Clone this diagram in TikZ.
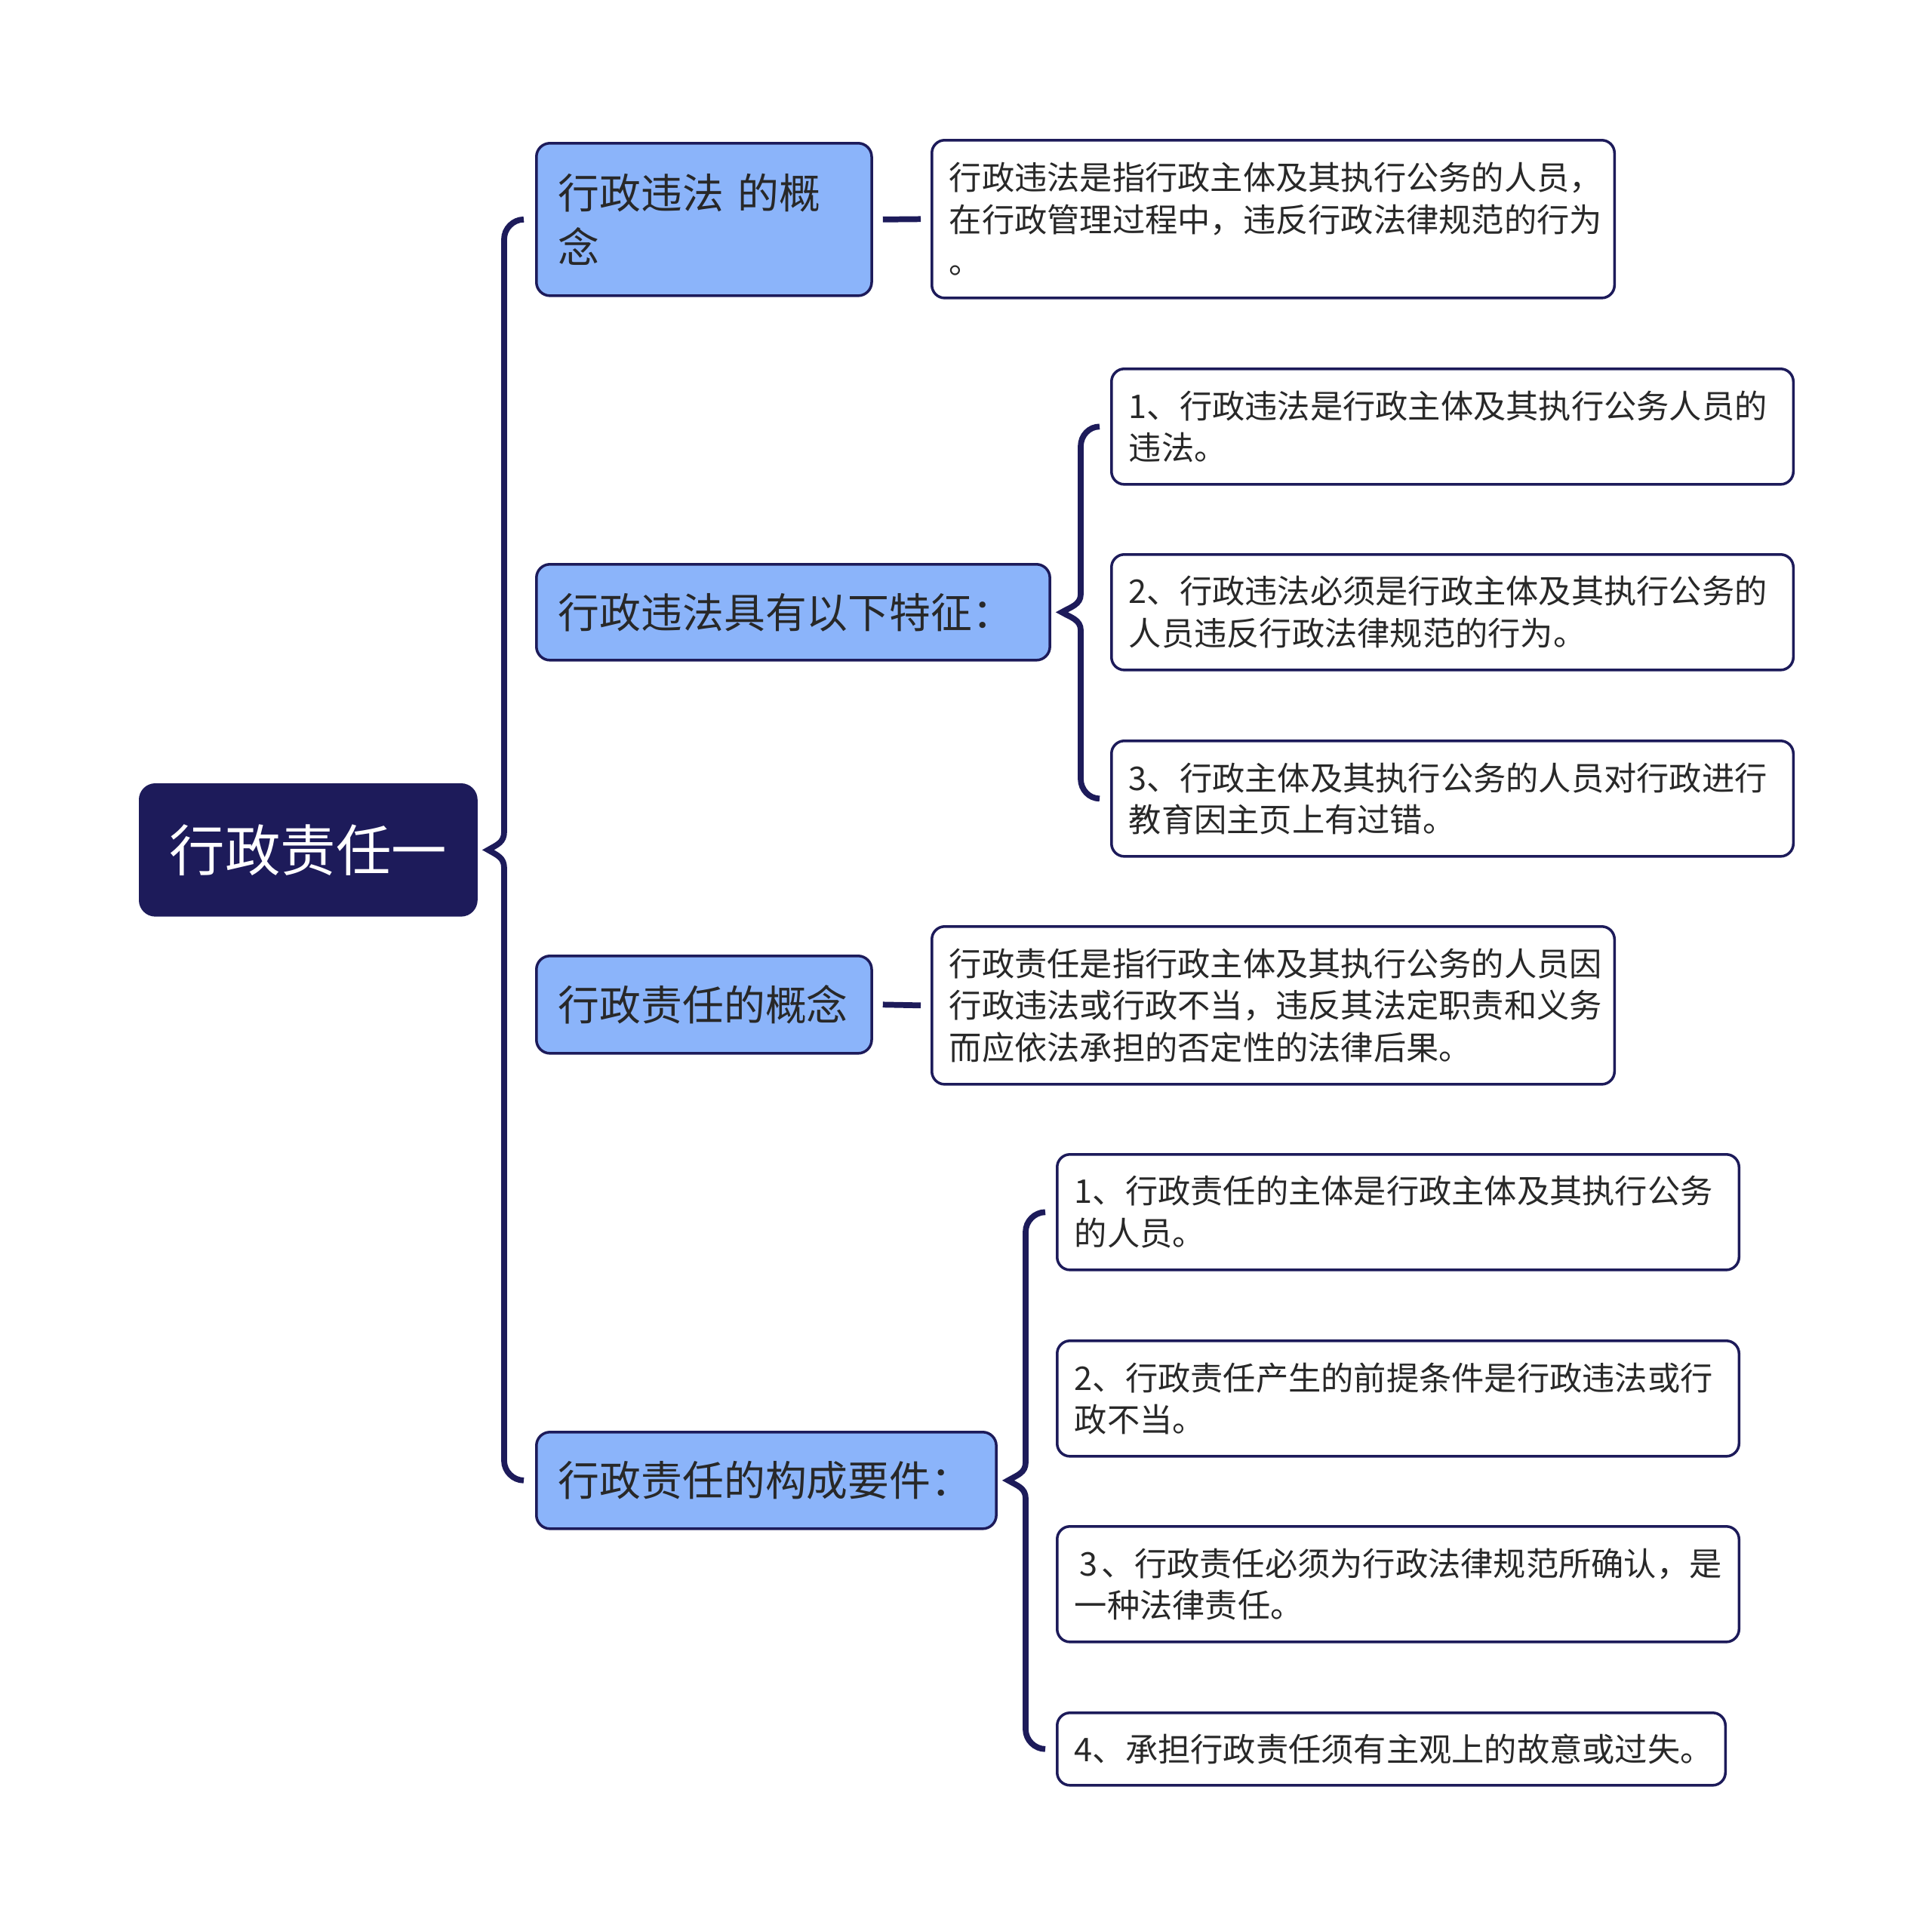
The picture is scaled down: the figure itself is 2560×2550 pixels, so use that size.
\documentclass[tikz,border=0pt]{standalone}
\usepackage{fontspec}
\setmainfont{Noto Sans CJK SC}
\usetikzlibrary{calc}
\definecolor{navy}{RGB}{29,27,90}
\definecolor{lblue}{RGB}{139,180,250}
\definecolor{txt}{RGB}{40,40,40}
\tikzset{
  rootbox/.style={draw=navy, fill=navy, line width=1pt, rounded corners=0.2cm, text=white,
    font=\fontsize{20.9}{26}\selectfont, anchor=north west, align=center, inner sep=0pt},
  lonebox/.style={draw=navy, fill=lblue, line width=1pt, rounded corners=0.18cm, text=txt,
    font=\fontsize{15.6}{20.5}\selectfont, anchor=north west, align=left, inner xsep=0.29cm, inner ysep=0pt},
  ltwobox/.style={draw=navy, fill=white, line width=1pt, rounded corners=0.17cm, text=txt,
    font=\fontsize{12.3}{15.8}\selectfont, anchor=north west, align=left, inner xsep=0.23cm, inner ysep=0pt},
  conn/.style={draw=navy, line width=2.2pt}
}
\hfuzz=100pt
\begin{document}
\begin{tikzpicture}[x=0.01cm,y=-0.01cm]
\useasboundingbox (0,0) rectangle (2560,2550);
% root
\node[rootbox, minimum width=4.45cm, minimum height=1.73cm] (root) at (184,1038) {行政责任一};
% level 1
\node[lonebox, minimum width=4.44cm, minimum height=2.02cm, text width=3.86cm] (A) at (709,188) {行政违法 的概\\念};
\node[lonebox, minimum width=6.80cm, minimum height=1.27cm, text width=6.22cm] (B) at (709,746) {行政违法具有以下特征：};
\node[lonebox, minimum width=4.44cm, minimum height=1.29cm, text width=3.86cm] (C) at (709,1265) {行政责任的概念};
\node[lonebox, minimum width=6.09cm, minimum height=1.28cm, text width=5.51cm] (D) at (709,1896) {行政责任的构成要件：};
% level 2
\node[ltwobox, minimum width=9.04cm, minimum height=2.09cm, text width=8.58cm] (A1) at (1233,184) {行政违法是指行政主体及其执行公务的人员，\\在行政管理过程中，违反行政法律规范的行为\\。};
\node[ltwobox, minimum width=9.03cm, minimum height=1.53cm, text width=8.57cm] (B1) at (1471,487) {1、行政违法是行政主体及其执行公务人员的\\违法。};
\node[ltwobox, minimum width=9.03cm, minimum height=1.53cm, text width=8.57cm] (B2) at (1471,733) {2、行政违法必须是行政主体及其执行公务的\\人员违反行政法律规范的行为。};
\node[ltwobox, minimum width=9.03cm, minimum height=1.53cm, text width=8.57cm] (B3) at (1471,980) {3、行政主体及其执行公务的人员对行政进行\\教育因主页上有过错。};
\node[ltwobox, minimum width=9.04cm, minimum height=2.09cm, text width=8.58cm] (C1) at (1233,1226) {行政责任是指行政主体及其执行公务的人员因\\行政违法或行政不当，违反其法定职责和义务\\而应依法承担的否定性的法律后果。};
\node[ltwobox, minimum width=9.03cm, minimum height=1.53cm, text width=8.57cm] (D1) at (1399,1528) {1、行政责任的主体是行政主体及其执行公务\\的人员。};
\node[ltwobox, minimum width=9.03cm, minimum height=1.53cm, text width=8.57cm] (D2) at (1399,1775) {2、行政责任产生的前提条件是行政违法或行\\政不当。};
\node[ltwobox, minimum width=9.03cm, minimum height=1.53cm, text width=8.57cm] (D3) at (1399,2021) {\mbox{\hspace{0.07cm}3\hspace{0.05cm}、行政责任必须为行政法律规范所确认，是}\\一种法律责任。};
\node[ltwobox, minimum width=8.85cm, minimum height=0.96cm, text width=8.39cm] (D4) at (1399,2268) {4、承担行政责任须有主观上的故意或过失。};
% root brace
\coordinate (r0) at ($(root.east)+(14,0)$);
\coordinate (r1) at ($(A.west)+(-15,0)$);
\coordinate (r2) at ($(D.west)+(-15,0)$);
\coordinate (rv) at ($(r0 -| r1)+(-26,0)$);
\draw[conn] (r1) .. controls ($(r1)+(-14,0)$) and ($(rv |- r1)+(0,12)$) .. ($(rv |- r1)+(0,26)$)
  -- ($(rv)+(0,-24)$) .. controls ($(rv)+(0,-10)$) and ($(r0)+(12,-7)$) .. (r0)
  .. controls ($(r0)+(12,7)$) and ($(rv)+(0,10)$) .. ($(rv)+(0,24)$)
  -- ($(rv |- r2)+(0,-26)$) .. controls ($(rv |- r2)+(0,-12)$) and ($(r2)+(-14,0)$) .. (r2);
% B brace
\coordinate (b0) at ($(B.east)+(14,0)$);
\coordinate (b1) at ($(B1.west)+(-14,0)$);
\coordinate (b2) at ($(B3.west)+(-14,0)$);
\coordinate (bv) at ($(b0 -| b1)+(-25,0)$);
\draw[conn] (b1) .. controls ($(b1)+(-14,0)$) and ($(bv |- b1)+(0,12)$) .. ($(bv |- b1)+(0,26)$)
  -- ($(bv)+(0,-24)$) .. controls ($(bv)+(0,-10)$) and ($(b0)+(12,-7)$) .. (b0)
  .. controls ($(b0)+(12,7)$) and ($(bv)+(0,10)$) .. ($(bv)+(0,24)$)
  -- ($(bv |- b2)+(0,-26)$) .. controls ($(bv |- b2)+(0,-12)$) and ($(b2)+(-14,0)$) .. (b2);
% D brace
\coordinate (d0) at ($(D.east)+(14,0)$);
\coordinate (d1) at ($(D1.west)+(-14,0)$);
\coordinate (d2) at ($(D4.west)+(-14,0)$);
\coordinate (dv) at ($(d0 -| d1)+(-26,0)$);
\draw[conn] (d1) .. controls ($(d1)+(-14,0)$) and ($(dv |- d1)+(0,12)$) .. ($(dv |- d1)+(0,26)$)
  -- ($(dv)+(0,-24)$) .. controls ($(dv)+(0,-10)$) and ($(d0)+(12,-7)$) .. (d0)
  .. controls ($(d0)+(12,7)$) and ($(dv)+(0,10)$) .. ($(dv)+(0,24)$)
  -- ($(dv |- d2)+(0,-26)$) .. controls ($(dv |- d2)+(0,-12)$) and ($(d2)+(-14,0)$) .. (d2);
% straight connectors
\draw[conn] ($(A.east)+(13,0)$) -- ($(A1.west)+(-13,0)$);
\draw[conn] ($(C.east)+(13,0)$) -- ($(C1.west)+(-13,0)$);
\end{tikzpicture}
\end{document}
